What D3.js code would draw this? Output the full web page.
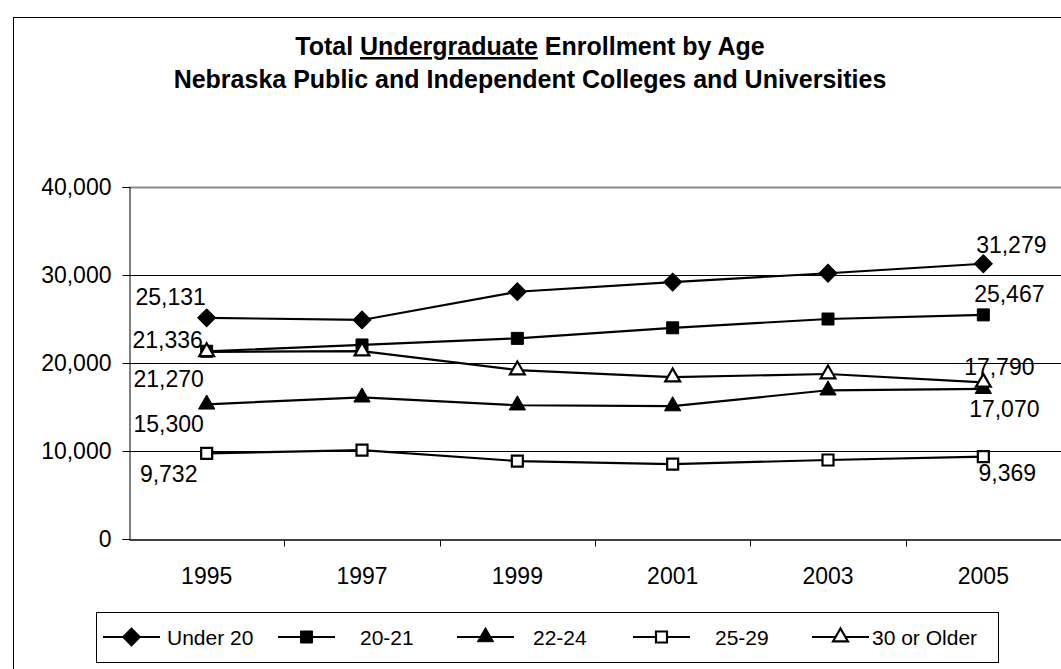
<!DOCTYPE html>
<html>
<head>
<meta charset="utf-8">
<script src="https://cdn.jsdelivr.net/npm/d3@7"></script>
<style>
body { margin: 0; background: #fff; }
text { font-family: Arial, "Liberation Sans", sans-serif; }
</style>
</head>
<body>
<div id="chart"></div>
<script>
// data
var years = ["1995", "1997", "1999", "2001", "2003", "2005"];
var under20 = [25131, 24890, 28100, 29200, 30200, 31279];
var age2021 = [21336, 22050, 22800, 24000, 25000, 25467];
var age2224 = [15300, 16100, 15200, 15100, 16900, 17070];
var age2529 = [9732, 10100, 8860, 8500, 8980, 9369];
var age30up = [21270, 21350, 19200, 18400, 18750, 17790];
var seriesNames = ["Under 20", "20-21", "22-24", "25-29", "30 or Older"];
var yTicks = [0, 10000, 20000, 30000, 40000];

var series = [under20, age2021, age2224, age2529, age30up];

// marker style per series
var markers = [
    {type: d3.symbolSquare, size: 160, rotate: 45, fill: "#000"},
    {type: d3.symbolSquare, size: 144, rotate: 0, fill: "#000"},
    {type: d3.symbolTriangle, size: 115, rotate: 0, fill: "#000"},
    {type: d3.symbolSquare, size: 121, rotate: 0, fill: "#fff"},
    {type: d3.symbolTriangle, size: 95, rotate: 0, fill: "#fff"}
];

// value labels: series index, year index, offset of label from point
var labels = [
    {s: 0, i: 0, dx: -36, dy: -13},
    {s: 1, i: 0, dx: -39, dy: -3},
    {s: 4, i: 0, dx: -38, dy: 35},
    {s: 2, i: 0, dx: -38, dy: 28},
    {s: 3, i: 0, dx: -38, dy: 29},
    {s: 0, i: 5, dx: 28, dy: -11},
    {s: 1, i: 5, dx: 26, dy: -13},
    {s: 4, i: 5, dx: 16, dy: -7},
    {s: 2, i: 5, dx: 21, dy: 28},
    {s: 3, i: 5, dx: 24, dy: 24}
];

var W = 1061, H = 669;
var plotLeft = 129, plotRight = 1061, plotTop = 187, plotBottom = 539;

var svg = d3.select("#chart").append("svg")
    .attr("width", W)
    .attr("height", H);

// chart frame
svg.append("rect")
    .attr("x", 13.5).attr("y", 17.5)
    .attr("width", 1100).attr("height", 700)
    .attr("fill", "none")
    .attr("stroke", "#000");

// title
var title = svg.append("text")
    .attr("x", 530).attr("y", 55)
    .attr("text-anchor", "middle")
    .attr("font-size", 25)
    .attr("font-weight", "bold");
title.append("tspan").text("Total ");
title.append("tspan").attr("text-decoration", "underline").text("Undergraduate");
title.append("tspan").text(" Enrollment by Age");

svg.append("text")
    .attr("x", 530).attr("y", 88)
    .attr("text-anchor", "middle")
    .attr("font-size", 25)
    .attr("font-weight", "bold")
    .text("Nebraska Public and Independent Colleges and Universities");

var x = d3.scaleBand().domain(years).range([plotLeft, plotRight]).padding(0);
var y = d3.scaleLinear().domain([0, 40000]).range([plotBottom, plotTop]);
var fmt = d3.format(",");

// gridlines
svg.append("g")
    .selectAll("line")
    .data(yTicks.filter(function (d) { return d > 0; }))
    .enter().append("line")
    .attr("x1", plotLeft).attr("x2", plotRight)
    .attr("y1", function (d) { return y(d) + 0.5; })
    .attr("y2", function (d) { return y(d) + 0.5; })
    .attr("stroke", function (d) { return d == 40000 ? "#888" : "#000"; })
    .attr("stroke-width", function (d) { return d == 40000 ? 2 : 1; });

// y axis
var yAxis = svg.append("g")
    .attr("transform", "translate(" + (plotLeft + 0.5) + ",0)")
    .call(d3.axisLeft(y).tickValues(yTicks).tickFormat(fmt).tickSize(7).tickPadding(11));
yAxis.selectAll("text").attr("font-size", 23).attr("fill", "#000");
yAxis.selectAll("line").attr("stroke", "#000");
yAxis.select(".domain").attr("stroke", "#000");

// x axis, ticks between categories
var xAxis = svg.append("g")
    .attr("transform", "translate(0," + (plotBottom + 0.5) + ")")
    .call(d3.axisBottom(x).tickSize(0).tickPadding(28));
xAxis.selectAll("text").attr("font-size", 23).attr("fill", "#000");
xAxis.select(".domain").attr("stroke", "#000").attr("stroke-width", 1.5);

var bounds = years.map(function (d) { return x(d); });
xAxis.selectAll(".sep")
    .data(bounds.slice(1))
    .enter().append("line")
    .attr("class", "sep")
    .attr("x1", function (d) { return Math.round(d) + 0.5; })
    .attr("x2", function (d) { return Math.round(d) + 0.5; })
    .attr("y1", 0).attr("y2", 7)
    .attr("stroke", "#000");

function cx(i) { return x(years[i]) + x.bandwidth() / 2; }

function symbolPath(m) {
    return d3.symbol().type(m.type).size(m.size)();
}

var line = d3.line()
    .x(function (d, i) { return cx(i); })
    .y(function (d) { return y(d); });

// draw lines then markers
series.forEach(function (vals, s) {
    svg.append("path")
        .datum(vals)
        .attr("d", line)
        .attr("fill", "none")
        .attr("stroke", "#000")
        .attr("stroke-width", 2.2);
});

series.forEach(function (vals, s) {
    var m = markers[s];
    svg.append("g")
        .selectAll("path")
        .data(vals)
        .enter().append("path")
        .attr("d", symbolPath(m))
        .attr("transform", function (d, i) {
            return "translate(" + cx(i) + "," + y(d) + ") rotate(" + m.rotate + ")";
        })
        .attr("fill", m.fill)
        .attr("stroke", "#000")
        .attr("stroke-width", m.fill == "#fff" ? 2.2 : 1);
});

// value labels
svg.append("g")
    .selectAll("text")
    .data(labels)
    .enter().append("text")
    .attr("x", function (d) { return cx(d.i) + d.dx; })
    .attr("y", function (d) { return y(series[d.s][d.i]) + d.dy; })
    .attr("text-anchor", "middle")
    .attr("font-size", 23)
    .text(function (d) { return fmt(series[d.s][d.i]); });

// legend
var legX = [103, 278, 457, 633, 812];
var legTextX = [167, 360, 533, 715, 872];
var legY = 637;

svg.append("rect")
    .attr("x", 96.5).attr("y", 612.5)
    .attr("width", 902).attr("height", 50)
    .attr("fill", "#fff")
    .attr("stroke", "#000");

var leg = svg.append("g")
    .selectAll("g")
    .data(seriesNames)
    .enter().append("g");

leg.append("line")
    .attr("x1", function (d, i) { return legX[i]; })
    .attr("x2", function (d, i) { return legX[i] + 57; })
    .attr("y1", legY).attr("y2", legY)
    .attr("stroke", "#000")
    .attr("stroke-width", 2.2);

leg.append("path")
    .attr("d", function (d, i) { return symbolPath(markers[i]); })
    .attr("transform", function (d, i) {
        return "translate(" + (legX[i] + 28.5) + "," + legY + ") rotate(" + markers[i].rotate + ")";
    })
    .attr("fill", function (d, i) { return markers[i].fill; })
    .attr("stroke", "#000")
    .attr("stroke-width", function (d, i) { return markers[i].fill == "#fff" ? 2.2 : 1; });

leg.append("text")
    .attr("x", function (d, i) { return legTextX[i]; })
    .attr("y", legY + 8)
    .attr("font-size", 21)
    .text(function (d) { return d; });
</script>
</body>
</html>
